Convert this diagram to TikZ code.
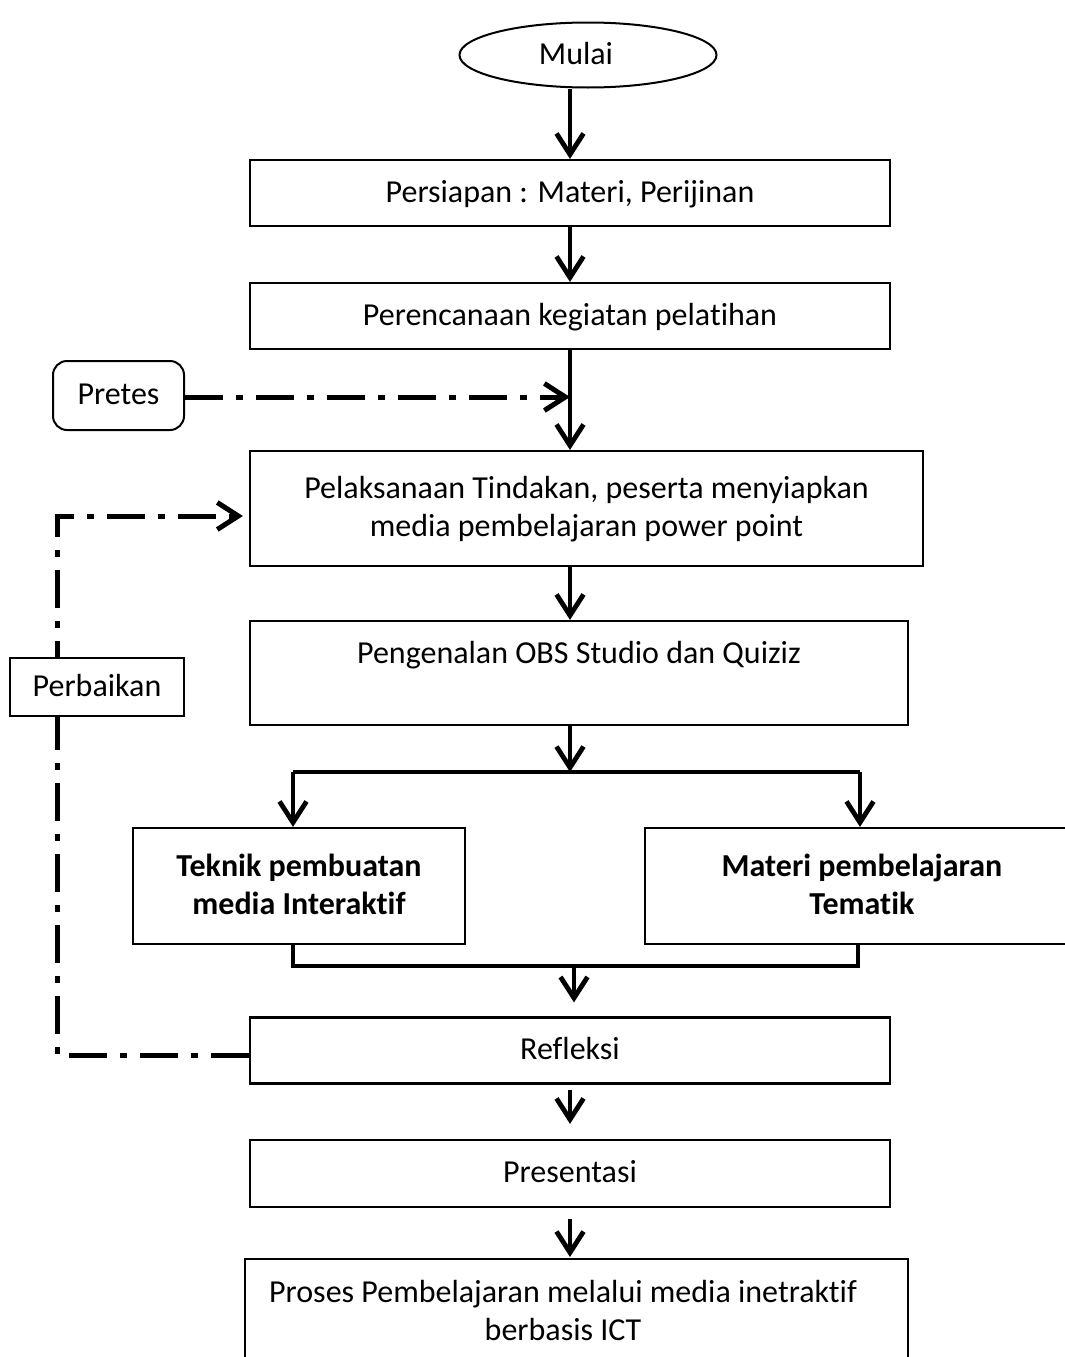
\documentclass[tikz,border=0pt]{standalone}
\usepackage{fontspec}
\setmainfont{Carlito}[Ligatures=NoCommon]
\usetikzlibrary{arrows.meta,shapes.geometric,calc}
\newcommand{\mystrut}{\rule{0pt}{28pt}\rule[-10pt]{0pt}{10pt}}
\begin{document}
\begin{tikzpicture}[x=1pt,y=-1pt,
  txt/.style={font=\fontsize{32}{38}\selectfont, align=center, inner sep=0pt},
  box/.style={txt, draw, line width=2.2pt, rectangle},
  tipV/.style={-{Straight Barb[length=21pt,width=27pt]}},
  flow/.style={line width=4.8pt, tipV},
  thick5/.style={line width=4.8pt},
  dashdot/.style={line width=5pt, dash pattern=on 38pt off 13pt on 7pt off 13pt}
  ]
\useasboundingbox (0,0) rectangle (1065,1357);
\clip (0,0) rectangle (1065,1357);
\fill[white] (0,0) rectangle (1065,1357);

% nodes
\node[draw, ellipse, line width=2pt, minimum width=257pt, minimum height=65pt, inner sep=0pt] (mulai) at (588,55) {};
\node[txt] (mulaitext) at (576,55) {\mystrut Mulai};
\node[box, minimum width=640pt, minimum height=66pt] (persiapan) at (570,193) {\mystrut Persiapan : Materi, Perijinan};
\node[box, minimum width=640pt, minimum height=66pt] (perencanaan) at (570,316) {\mystrut Perencanaan kegiatan pelatihan};
\node[box, rounded corners=14pt, line width=2pt, minimum width=131pt, minimum height=69pt] (pretes) at (118.5,395.5) {\mystrut Pretes};
\node[box, minimum width=673pt, minimum height=115pt] (pelaksanaan) at (586.5,508.5) {\mystrut Pelaksanaan Tindakan, peserta menyiapkan\\\mystrut media pembelajaran power point};
\node[box, minimum width=658pt, minimum height=104pt] (pengenalan) at (579,673) {\mystrut Pengenalan OBS Studio dan Quiziz\\\mystrut};
\node[box, minimum width=332pt, minimum height=116pt, font=\fontsize{32}{38}\selectfont\bfseries] (teknik) at (299,886) {\mystrut Teknik pembuatan\\\mystrut media Interaktif};
\node[box, minimum width=434pt, minimum height=116pt, font=\fontsize{32}{38}\selectfont\bfseries] (materi) at (862,886) {\mystrut Materi pembelajaran\\\mystrut Tematik};
\node[box, minimum width=640pt, minimum height=66pt] (refleksi) at (570,1050.5) {\mystrut Refleksi};
\node[box, minimum width=640pt, minimum height=67pt] (presentasi) at (570,1173.5) {\mystrut Presentasi};
\node[box, minimum width=663pt, minimum height=200pt, anchor=north] (proses) at (576.5,1258) {};
\node[txt] (prosestext) at (563,1312) {\mystrut Proses Pembelajaran melalui media inetraktif\\\mystrut berbasis ICT};

% helper coordinates
\coordinate (split) at (570,772);
\coordinate (splitL) at (293,772);
\coordinate (splitR) at (860,772);
\coordinate (joinL) at (293,966);
\coordinate (joinR) at (858,966);
\coordinate (joinM) at (574,966);
\coordinate (fbtop) at (57,516);
\coordinate (fbbot) at (57,1055);

% main flow
\draw[flow] (persiapan.north |- mulai.south) -- (persiapan.north);
\draw[flow] (persiapan.south) -- (perencanaan.north);
\draw[flow] (perencanaan.south) -- (perencanaan.south |- pelaksanaan.north);
\draw[flow] (pelaksanaan.south -| persiapan.south) -- (pengenalan.north -| persiapan.south);
\draw[flow] (pengenalan.south -| split) -- (split);
\draw[thick5] (splitL) -- (splitR);
\draw[flow] (splitL) -- (splitL |- teknik.north);
\draw[flow] (splitR) -- (splitR |- materi.north);
\draw[thick5] (joinL |- teknik.south) -- (joinL) -- (joinR) -- (joinR |- materi.south);
\draw[flow, shorten >=14pt] (joinM) -- (joinM |- refleksi.north);
\draw[flow, shorten <=5pt, shorten >=15pt] (refleksi.south) -- (presentasi.north);
\draw[flow, shorten <=11pt, shorten >=1pt] (presentasi.south) -- (presentasi.south |- proses.north);

% pretes
\draw[dashdot, tipV] (pretes.east |- 0,397) -- (perencanaan.south |- 0,397);

% feedback loop
\draw[dashdot, tipV, shorten >=6pt] (refleksi.west |- fbbot) -- (fbbot) -- (fbtop) -- (fbtop -| pelaksanaan.west);
\node[box, line width=1.6pt, fill=white, minimum width=174pt, minimum height=58pt] (perbaikan) at (97,687) {\mystrut Perbaikan};
\end{tikzpicture}
\end{document}
